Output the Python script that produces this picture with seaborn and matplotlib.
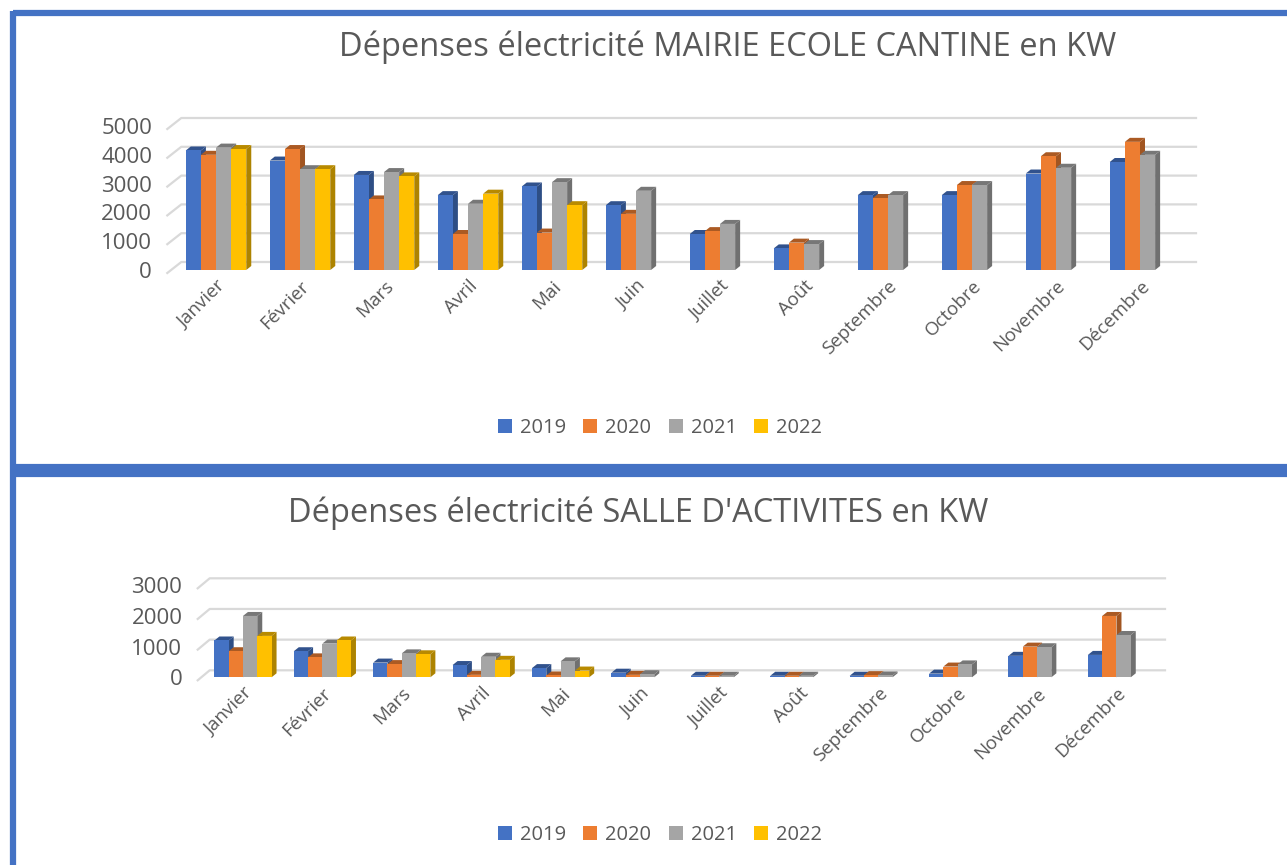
import numpy as np
import pandas as pd
import seaborn as sns
import matplotlib
matplotlib.use('Agg')
import matplotlib.pyplot as plt
from matplotlib.patches import Polygon, Patch
from matplotlib.lines import Line2D
import matplotlib.transforms as mtransforms

# Data
mois = ['Janvier', 'Février', 'Mars', 'Avril', 'Mai', 'Juin', 'Juillet',
        'Août', 'Septembre', 'Octobre', 'Novembre', 'Décembre']
annees = ['2019', '2020', '2021', '2022']
nan = np.nan

mairie_2019 = [4150, 3800, 3300, 2600, 2900, 2250, 1250, 750, 2600, 2600, 3350, 3750]
mairie_2020 = [4000, 4200, 2450, 1250, 1300, 1950, 1350, 950, 2500, 2950, 3950, 4450]
mairie_2021 = [4250, 3500, 3400, 2300, 3050, 2750, 1600, 900, 2600, 2950, 3550, 4000]
mairie_2022 = [4200, 3500, 3250, 2650, 2250, nan, nan, nan, nan, nan, nan, nan]

salle_2019 = [1200, 850, 480, 400, 300, 150, 50, 50, 50, 120, 700, 730]
salle_2020 = [850, 650, 430, 80, 60, 80, 50, 50, 70, 350, 1000, 2000]
salle_2021 = [2000, 1100, 780, 670, 520, 100, 50, 50, 60, 420, 980, 1380]
salle_2022 = [1350, 1200, 750, 570, 220, nan, nan, nan, nan, nan, nan, nan]

couleurs = ['#4472C4', '#ED7D31', '#A5A5A5', '#FFC000']
texte = '#595959'

plt.rcParams['font.family'] = ['Open Sans', 'DejaVu Sans']


def long_table(series):
    rows = []
    for annee, vals in zip(annees, series):
        for m, v in zip(mois, vals):
            rows.append({'mois': m, 'annee': annee, 'kw': v})
    return pd.DataFrame(rows)


def darker(c, f):
    r, g, b = matplotlib.colors.to_rgb(c)
    return (r * f, g * f, b * f)


def draw_chart(fig, rect, df, ymax, step, xlim, depth, bar_d, title, title_xy, legend_y):
    ax = fig.add_axes(rect)
    sns.barplot(data=df, x='mois', y='kw', hue='annee', order=mois, hue_order=annees,
                palette=couleurs, width=0.72, errorbar=None, legend=False,
                saturation=1, ax=ax, linewidth=0)
    ax.set_xlim(*xlim)
    ax.set_ylim(0, ymax)
    ax.set_yticks(np.arange(0, ymax + 1, step))
    ax.set_yticklabels([str(v) for v in range(0, ymax + 1, step)], fontsize=16, color=texte)
    ax.tick_params(axis='y', length=0, pad=11)
    ax.tick_params(axis='x', length=0, pad=5)
    plt.setp(ax.get_xticklabels(), rotation=45, ha='right', rotation_mode='anchor',
             fontsize=13.5, color=texte)
    ax.set_xlabel('')
    ax.set_ylabel('')
    for s in ax.spines.values():
        s.set_visible(False)
    ax.patch.set_alpha(0)

    ident = mtransforms.IdentityTransform()
    dx, dy = depth
    # back wall gridlines with slanted floor edge
    for v in np.arange(0, ymax + 1, step):
        x0, y0 = ax.transData.transform((xlim[0], v))
        x1, _ = ax.transData.transform((xlim[1], v))
        ax.add_line(Line2D([x0, x0 + dx, x1 + dx], [y0 - 3, y0 + dy, y0 + dy],
                           color='#D9D9D9', lw=1.6, transform=ident, clip_on=False, zorder=0.5))

    # 3D side and top faces of the bars
    bdx, bdy = bar_d
    for k, cont in enumerate(ax.containers):
        for bar in cont:
            h = bar.get_height()
            if not np.isfinite(h) or h <= 0:
                continue
            bar.set_zorder(3 + 3 * k + 2)
            xl, yb = ax.transData.transform((bar.get_x(), 0))
            xr, yt = ax.transData.transform((bar.get_x() + bar.get_width(), h))
            c = couleurs[k]
            side = Polygon([(xr, yb), (xr + bdx, yb + bdy), (xr + bdx, yt + bdy), (xr, yt)],
                           closed=True, facecolor=darker(c, 0.68), edgecolor='none',
                           transform=ident, clip_on=False, zorder=3 + 3 * k + 1)
            top = Polygon([(xl, yt), (xl + bdx, yt + bdy), (xr + bdx, yt + bdy), (xr, yt)],
                          closed=True, facecolor=darker(c, 0.72), edgecolor='none',
                          transform=ident, clip_on=False, zorder=3 + 3 * k + 1)
            ax.add_patch(side)
            ax.add_patch(top)

    fig.text(title_xy[0], title_xy[1], title, ha='center', va='center', fontsize=23.5, color=texte)
    handles = [Patch(facecolor=c, edgecolor='none') for c in couleurs]
    fig.legend(handles, annees, loc='center', bbox_to_anchor=(660 / 1287, legend_y), ncol=4,
               frameon=False, fontsize=14.5, handlelength=0.7, handleheight=0.7,
               handletextpad=0.4, columnspacing=0.85, labelcolor=texte)
    return ax


W, H = 1287, 865
fig = plt.figure(figsize=(W / 100, H / 100), dpi=100)

# top chart : MAIRIE ECOLE CANTINE
df_mairie = long_table([mairie_2019, mairie_2020, mairie_2021, mairie_2022])
draw_chart(fig, [167.3 / W, (H - 270) / H, 1014.7 / W, 144 / H], df_mairie, 5000, 1000,
           (-0.58, 11.5), (14, 8), (5, 4),
           'Dépenses électricité MAIRIE ECOLE CANTINE en KW', (728 / W, 1 - 47 / H), 1 - 428 / H)

# bottom chart : SALLE D'ACTIVITES
df_salle = long_table([salle_2019, salle_2020, salle_2021, salle_2022])
draw_chart(fig, [197.7 / W, (H - 677.3) / H, 955.3 / W, 92 / H], df_salle, 3000, 1000,
           (-0.57, 11.46), (12, 7), (5, 4),
           "Dépenses électricité SALLE D'ACTIVITES en KW", (638 / W, 1 - 513 / H), 1 - 835 / H)

# blue frames
bleu = '#4472C4'
fig.add_artist(Line2D([12.5 / W, 1], [1 - 13 / H, 1 - 13 / H], color=bleu, lw=4.5,
                      transform=fig.transFigure, solid_capstyle='butt'))
fig.add_artist(Line2D([12.5 / W, 12.5 / W], [1 - 10.5 / H, 0], color=bleu, lw=4.5,
                      transform=fig.transFigure, solid_capstyle='butt'))
fig.add_artist(Line2D([10 / W, 1], [1 - 469.5 / H, 1 - 469.5 / H], color=bleu, lw=9.5,
                      transform=fig.transFigure, solid_capstyle='butt'))

fig.savefig('out.png', dpi=100, facecolor='white')
